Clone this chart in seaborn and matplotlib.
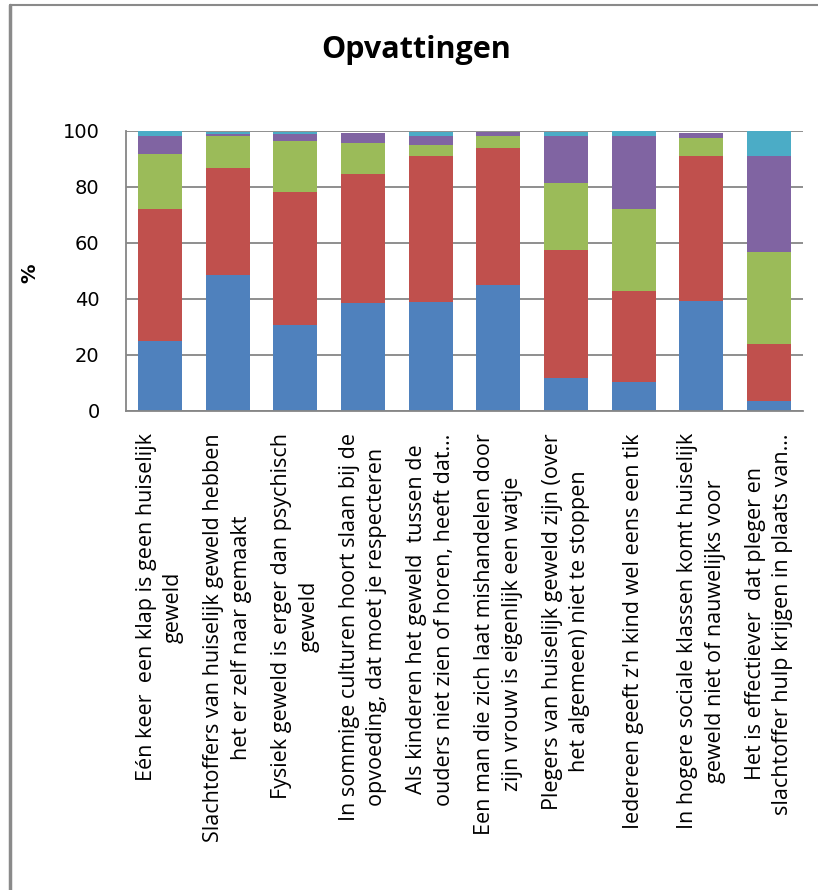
import numpy as np
import pandas as pd
import matplotlib
matplotlib.use('Agg')
import matplotlib.pyplot as plt
import seaborn as sns
from matplotlib.lines import Line2D

labels = [
    "Eén keer  een klap is geen huiselijk\ngeweld",
    "Slachtoffers van huiselijk geweld hebben\nhet er zelf naar gemaakt",
    "Fysiek geweld is erger dan psychisch\ngeweld",
    "In sommige culturen hoort slaan bij de\nopvoeding, dat moet je respecteren",
    "Als kinderen het geweld  tussen de\nouders niet zien of horen, heeft dat…",
    "Een man die zich laat mishandelen door\nzijn vrouw is eigenlijk een watje",
    "Plegers van huiselijk geweld zijn (over\nhet algemeen) niet te stoppen",
    "Iedereen geeft z'n kind wel eens een tik",
    "In hogere sociale klassen komt huiselijk\ngeweld niet of nauwelijks voor",
    "Het is effectiever  dat pleger en\nslachtoffer hulp krijgen in plaats van…",
]

blue = [25.0, 48.6, 30.7, 38.6, 39.0, 45.0, 11.9, 10.5, 39.3, 3.6]
red = [47.1, 38.3, 47.5, 46.0, 52.1, 48.9, 45.6, 32.4, 51.8, 20.4]
green = [19.7, 11.3, 18.2, 11.1, 3.9, 4.3, 23.9, 29.2, 6.4, 32.8]
purple = [6.4, 0.7, 2.5, 3.6, 3.2, 1.6, 16.8, 26.1, 1.8, 34.3]
cyan = [1.8, 0.9, 0.9, 0.0, 1.5, 0.0, 1.4, 1.8, 0.0, 8.9]

series = [blue, red, green, purple, cyan]
colors = ['#4F81BD', '#C0504D', '#9BBB59', '#8064A2', '#4BACC6']

sns.set_style('white')
plt.rcParams['font.family'] = ['Open Sans', 'DejaVu Sans']
plt.rcParams['text.color'] = 'black'
plt.rcParams['xtick.color'] = 'black'
plt.rcParams['ytick.color'] = 'black'

W, H = 818, 890
fig = plt.figure(figsize=(W / 100, H / 100), dpi=100)
ax = fig.add_axes([126 / W, 1 - 411 / H, 677 / W, 280 / H])

# stacked bars: draw cumulative totals from top layer down
cum = np.cumsum(np.array(series), axis=0)
for i in range(len(series) - 1, -1, -1):
    df = pd.DataFrame({'stelling': labels, 'pct': cum[i]})
    sns.barplot(data=df, x='stelling', y='pct', color=colors[i], width=0.65,
                saturation=1, edgecolor='none', linewidth=0, ax=ax)

ax.set_xlim(-0.5, 9.5)
ax.set_ylim(0, 100)
ax.set_yticks(range(0, 101, 20))
ax.yaxis.grid(True, color='#868686', linewidth=1.3)
ax.set_axisbelow(True)
for s in ['top', 'right']:
    ax.spines[s].set_visible(False)
for s in ['left', 'bottom']:
    ax.spines[s].set_color('#868686')
    ax.spines[s].set_linewidth(1.3)

ax.set_xlabel('')
ax.set_ylabel('')
ax.tick_params(axis='y', length=0, pad=19, labelsize=14, labelcolor='black')
for t in ax.get_yticklabels():
    t.set_family('DejaVu Sans')
ax.tick_params(axis='x', length=0, pad=16, labelsize=15.5, labelcolor='black')
ax.set_xticks(range(len(labels)))
ax.set_xticklabels(labels, rotation=90, ha='center', va='top',
                   multialignment='center', linespacing=1.4)

fig.text(416 / W, 1 - 50 / H, 'Opvattingen', ha='center', va='center',
         fontsize=22, fontweight='bold', color='black')
fig.text(30 / W, 1 - 273 / H, '%', ha='center', va='center', rotation=90,
         fontsize=14, fontweight='bold', family='DejaVu Sans', color='black')

# chart border
fig.add_artist(Line2D([10 / W, 10 / W], [0, 1 - 5 / H], color='#8a8a8a', linewidth=2.5))
fig.add_artist(Line2D([10 / W, 1], [1 - 5 / H, 1 - 5 / H], color='#8a8a8a', linewidth=1.5))

fig.savefig('out.png', dpi=100)
